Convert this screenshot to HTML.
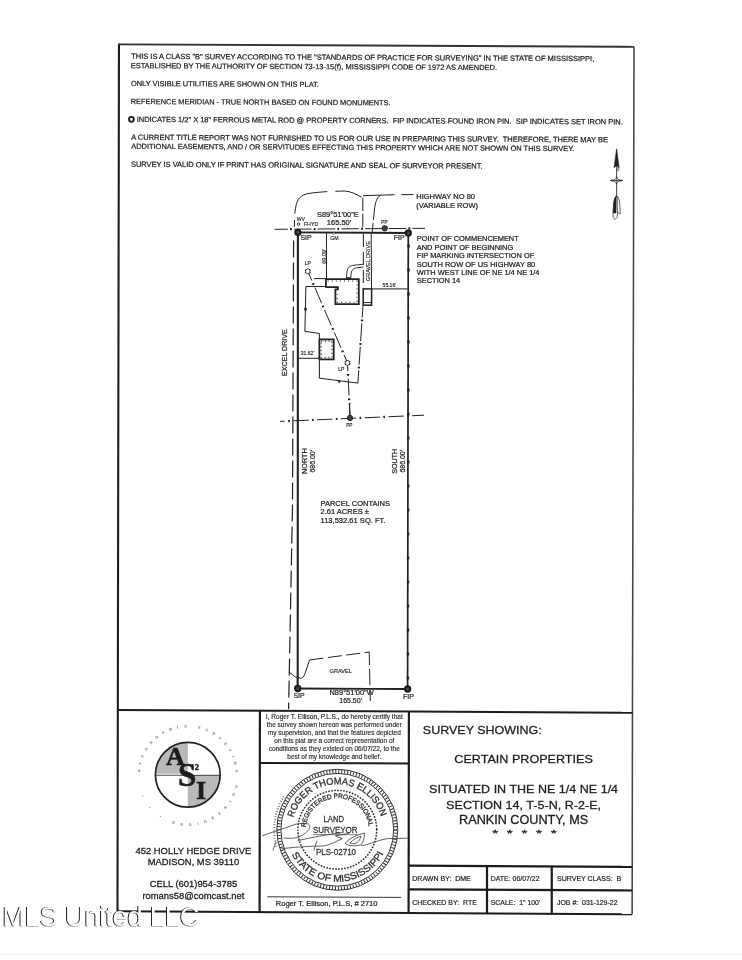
<!DOCTYPE html>
<html lang="en"><head><meta charset="utf-8"><title>Survey Plat</title>
<style>
html,body{margin:0;padding:0;background:#fff;}
body{width:742px;height:960px;position:relative;overflow:hidden;font-family:"Liberation Sans",sans-serif;}
svg{position:absolute;left:0;top:0;display:block;}
svg text{font-family:"Liberation Sans",sans-serif;}
.wm{position:absolute;left:2.4px;top:900.5px;font-size:27px;line-height:32px;color:#fff;white-space:nowrap;letter-spacing:-0.1px;
text-shadow:-1px 0.35px 0.4px rgba(20,20,20,0.95),-0.5px 1px 0.5px rgba(20,20,20,0.3);}
</style></head><body>
<svg width="742" height="960" viewBox="0 0 742 960">
<rect width="742" height="960" fill="#fff"/>
<g filter="url(#soft)">
<path d="M118.96 44.3 L634 46.8" stroke="#333" stroke-width="1.8" fill="none" />
<path d="M634 46.8 L632.45 712.7 L632.15 914.3" stroke="#444" stroke-width="1.55" fill="none" />
<path d="M118.96 44.3 L117.8 715 L117.5 911.2" stroke="#1c1c1c" stroke-width="2.1" fill="none" />
<path d="M117.5 911.2 L632.15 914.3" stroke="#1c1c1c" stroke-width="2.1" fill="none" />
<rect x="118.06" y="43.4" width="1.8" height="1.8" fill="#333"/>
<line x1="117.8" y1="709.9" x2="632.45" y2="712.7" stroke="#1c1c1c" stroke-width="2.0"/>
<line x1="259.9" y1="710.7" x2="259.6" y2="912" stroke="#1c1c1c" stroke-width="2.2"/>
<line x1="408.9" y1="711.5" x2="408.6" y2="913" stroke="#1c1c1c" stroke-width="2.2"/>
<line x1="259.8" y1="762.9" x2="408.75" y2="763.5" stroke="#1c1c1c" stroke-width="2.0"/>
<line x1="408.65" y1="865.7" x2="632.15" y2="866.9" stroke="#1c1c1c" stroke-width="2.2"/>
<line x1="408.65" y1="889.3" x2="632.15" y2="890.5" stroke="#1c1c1c" stroke-width="2.2"/>
<line x1="487" y1="866" x2="487" y2="913.4" stroke="#1c1c1c" stroke-width="2.2"/>
<line x1="551.75" y1="866.5" x2="551.75" y2="913.8" stroke="#1c1c1c" stroke-width="2.2"/>
<line x1="267.5" y1="896.8" x2="401" y2="897.4" stroke="#202020" stroke-width="0.9"/>
<text x="131.2" y="58.8" font-size="7.49" textLength="463.05" lengthAdjust="spacingAndGlyphs" fill="#202020" xml:space="preserve" transform="rotate(0.3 131.2 58.8)" stroke="#202020" stroke-width="0.22">THIS IS A CLASS &quot;B&quot; SURVEY ACCORDING TO THE &quot;STANDARDS OF PRACTICE FOR SURVEYING&quot; IN THE STATE OF MISSISSIPPI,</text>
<text x="130.7" y="68.2" font-size="7.45" textLength="366.3" lengthAdjust="spacingAndGlyphs" fill="#202020" xml:space="preserve" transform="rotate(0.3 130.7 68.2)" stroke="#202020" stroke-width="0.21">ESTABLISHED BY THE AUTHORITY OF SECTION 73-13-15(f), MISSISSIPPI CODE OF 1972 AS AMENDED.</text>
<text x="130.9" y="86.0" font-size="7.46" textLength="188.0" lengthAdjust="spacingAndGlyphs" fill="#202020" xml:space="preserve" transform="rotate(0.3 130.9 86.0)" stroke="#202020" stroke-width="0.21">ONLY VISIBLE UTILITIES ARE SHOWN ON THIS PLAT.</text>
<text x="130.7" y="104.0" font-size="7.4" textLength="259.9" lengthAdjust="spacingAndGlyphs" fill="#202020" xml:space="preserve" transform="rotate(0.3 130.7 104.0)" stroke="#202020" stroke-width="0.21">REFERENCE MERIDIAN - TRUE NORTH BASED ON FOUND MONUMENTS.</text>
<text x="136.7" y="121.9" font-size="7.47" textLength="486.05" lengthAdjust="spacingAndGlyphs" fill="#202020" xml:space="preserve" transform="rotate(0.3 136.7 121.9)" stroke="#202020" stroke-width="0.22">INDICATES 1/2&quot; X 18&quot; FERROUS METAL ROD @ PROPERTY CORNERS.  FIP INDICATES FOUND IRON PIN.  SIP INDICATES SET IRON PIN.</text>
<text x="131.2" y="139.8" font-size="7.49" textLength="476.8" lengthAdjust="spacingAndGlyphs" fill="#202020" xml:space="preserve" transform="rotate(0.3 131.2 139.8)" stroke="#202020" stroke-width="0.22">A CURRENT TITLE REPORT WAS NOT FURNISHED TO US FOR OUR USE IN PREPARING THIS SURVEY.  THEREFORE, THERE MAY BE</text>
<text x="131.2" y="148.8" font-size="7.45" textLength="443.05" lengthAdjust="spacingAndGlyphs" fill="#202020" xml:space="preserve" transform="rotate(0.3 131.2 148.8)" stroke="#202020" stroke-width="0.21">ADDITIONAL EASEMENTS, AND / OR SERVITUDES EFFECTING THIS PROPERTY WHICH ARE NOT SHOWN ON THIS SURVEY.</text>
<text x="130.9" y="166.8" font-size="7.49" textLength="351.6" lengthAdjust="spacingAndGlyphs" fill="#202020" xml:space="preserve" transform="rotate(0.3 130.9 166.8)" stroke="#202020" stroke-width="0.22">SURVEY IS VALID ONLY IF PRINT HAS ORIGINAL SIGNATURE AND SEAL OF SURVEYOR PRESENT.</text>
<circle cx="131.4" cy="119.3" r="2.45" fill="none" stroke="#1c1c1c" stroke-width="1.9"/>
<line x1="616.6" y1="150" x2="616.6" y2="197" stroke="#202020" stroke-width="0.8"/>
<path d="M616.6 148.9 L614.0 167.8 L616.6 165.5 L619.2 167.8 Z" stroke="#202020" stroke-width="0.6" fill="#202020" />
<ellipse cx="617.8000000000001" cy="169.3" rx="1.1" ry="1.6" fill="none" stroke="#202020" stroke-width="0.6"/>
<path d="M610.4 180.5 L615.3000000000001 179.4 L616.6 177 L617.9 179.4 L622.8000000000001 180.5 L617.9 181.6 L616.6 184 L615.3000000000001 181.6 Z" stroke="#202020" stroke-width="0.7" fill="#fff" />
<line x1="610.4" y1="180.5" x2="622.8000000000001" y2="180.5" stroke="#202020" stroke-width="0.7"/>
<line x1="616.6" y1="176.5" x2="616.6" y2="184.5" stroke="#202020" stroke-width="0.6"/>
<path d="M616.3000000000001 196.2 C614.0 197,613.4 205,613.0 216 C612.9 220,616.9 220,617.4 216 L617.2 196.5 Z" stroke="#202020" stroke-width="0.7" fill="none" />
<path d="M616.3000000000001 196.2 C614.0 197,613.4 205,613.1 213 L616.0 213 Z" stroke="#202020" stroke-width="0.5" fill="#202020" />
<path d="M616.9 196.2 C619.6 197,620.0 205,620.2 214 L617.4 212" stroke="#202020" stroke-width="0.7" fill="none" />
<line x1="297.9" y1="232.3" x2="297.7" y2="688.5" stroke="#202020" stroke-width="2.1"/>
<line x1="297.9" y1="232.3" x2="408.3" y2="233.0" stroke="#202020" stroke-width="1.8"/>
<line x1="408.3" y1="233.0" x2="407.6" y2="689.0" stroke="#202020" stroke-width="1.7"/>
<line x1="297.7" y1="688.5" x2="407.6" y2="689.0" stroke="#202020" stroke-width="1.8"/>
<circle cx="297.9" cy="232.3" r="2.6" fill="#4a4a4a" stroke="#1a1a1a" stroke-width="2.1"/>
<circle cx="408.3" cy="233.0" r="2.6" fill="#4a4a4a" stroke="#1a1a1a" stroke-width="2.1"/>
<circle cx="297.7" cy="688.5" r="2.6" fill="#4a4a4a" stroke="#1a1a1a" stroke-width="2.1"/>
<circle cx="407.6" cy="689.0" r="2.6" fill="#4a4a4a" stroke="#1a1a1a" stroke-width="2.1"/>
<line x1="408.58004385964915" y1="244.6" x2="408.58004385964915" y2="247.4" stroke="#202020" stroke-width="2.4"/>
<line x1="408.54320175438596" y1="268.6" x2="408.54320175438596" y2="271.4" stroke="#202020" stroke-width="2.4"/>
<line x1="408.5063596491228" y1="292.6" x2="408.5063596491228" y2="295.4" stroke="#202020" stroke-width="2.4"/>
<line x1="408.4695175438597" y1="316.6" x2="408.4695175438597" y2="319.4" stroke="#202020" stroke-width="2.4"/>
<line x1="408.4326754385965" y1="340.6" x2="408.4326754385965" y2="343.4" stroke="#202020" stroke-width="2.4"/>
<line x1="408.39583333333337" y1="364.6" x2="408.39583333333337" y2="367.4" stroke="#202020" stroke-width="2.4"/>
<line x1="408.3589912280702" y1="388.6" x2="408.3589912280702" y2="391.4" stroke="#202020" stroke-width="2.4"/>
<line x1="408.32214912280705" y1="412.6" x2="408.32214912280705" y2="415.4" stroke="#202020" stroke-width="2.4"/>
<line x1="408.2853070175439" y1="436.6" x2="408.2853070175439" y2="439.4" stroke="#202020" stroke-width="2.4"/>
<line x1="408.2484649122807" y1="460.6" x2="408.2484649122807" y2="463.4" stroke="#202020" stroke-width="2.4"/>
<line x1="408.2116228070176" y1="484.6" x2="408.2116228070176" y2="487.4" stroke="#202020" stroke-width="2.4"/>
<line x1="408.1747807017544" y1="508.6" x2="408.1747807017544" y2="511.4" stroke="#202020" stroke-width="2.4"/>
<line x1="408.13793859649127" y1="532.6" x2="408.13793859649127" y2="535.4" stroke="#202020" stroke-width="2.4"/>
<line x1="408.1010964912281" y1="556.6" x2="408.1010964912281" y2="559.4" stroke="#202020" stroke-width="2.4"/>
<line x1="408.06425438596494" y1="580.6" x2="408.06425438596494" y2="583.4" stroke="#202020" stroke-width="2.4"/>
<line x1="408.0274122807018" y1="604.6" x2="408.0274122807018" y2="607.4" stroke="#202020" stroke-width="2.4"/>
<line x1="407.9905701754386" y1="628.6" x2="407.9905701754386" y2="631.4" stroke="#202020" stroke-width="2.4"/>
<line x1="407.9537280701755" y1="652.6" x2="407.9537280701755" y2="655.4" stroke="#202020" stroke-width="2.4"/>
<line x1="407.9168859649123" y1="676.6" x2="407.9168859649123" y2="679.4" stroke="#202020" stroke-width="2.4"/>
<path d="M293.6 240.6 L292.5 505 L288.6 709" stroke="#202020" stroke-width="1.2" fill="none" stroke-dasharray="17 5" />
<path d="M274.7 229.3 L425 228.3" stroke="#202020" stroke-width="1.0" fill="none" stroke-dasharray="17.5 2.3 1.6 2.3" stroke-dashoffset="4.4"/>
<path d="M274.7 229.3 L425 228.3" stroke="#202020" stroke-width="2.2" fill="none" stroke-dasharray="0 19.8 1.6 2.3" stroke-dashoffset="4.4"/>
<path d="M280 421.4 L424 415.2" stroke="#202020" stroke-width="1.0" fill="none" stroke-dasharray="15.3 3.5 1.5 3.5" stroke-dashoffset="10.5"/>
<path d="M280 421.4 L424 415.2" stroke="#202020" stroke-width="2.2" fill="none" stroke-dasharray="0 18.8 1.5 3.5" stroke-dashoffset="10.5"/>
<path d="M294.3 227 L294.6 219 C294.8 210,296 202,299.5 198 C302 195.3,305 194,309 193.4 C320 191.8,335 191,345.5 191.1 C350 191.4,356.3 194,361.6 197.3" stroke="#202020" stroke-width="1.0" fill="none" stroke-dasharray="7 6 46 8 200 0" />
<path d="M362.9 195.7 L394.5 194.7" stroke="#202020" stroke-width="1.0" fill="none" />
<path d="M362.8 198 L362.8 229.5" stroke="#202020" stroke-width="1.0" fill="none" stroke-dasharray="13 2.8" />
<path d="M380.5 195.3 C377 197,375 203,374.4 210" stroke="#202020" stroke-width="1.0" fill="none" />
<path d="M374.4 210 L372 234" stroke="#202020" stroke-width="1.0" fill="none" stroke-dasharray="10 3" />
<path d="M401.3 194.6 L413.5 194.6" stroke="#202020" stroke-width="1.0" fill="none" />
<text x="317" y="216.8" font-size="7.43" textLength="41.75" lengthAdjust="spacingAndGlyphs" fill="#202020"  stroke="#202020" stroke-width="0.21">S89°51'00&quot;E</text>
<text x="326.75" y="225.2" font-size="7.54" textLength="24.5" lengthAdjust="spacingAndGlyphs" fill="#202020"  stroke="#202020" stroke-width="0.22">165.50'</text>
<text x="296.7" y="221.3" font-size="5.15" textLength="8.3" lengthAdjust="spacingAndGlyphs" fill="#202020"  stroke="#202020" stroke-width="0.14">WV</text>
<circle cx="298.6" cy="224.1" r="1.25" fill="none" stroke="#202020" stroke-width="0.9"/>
<text x="303.9" y="225.8" font-size="5.25" textLength="14.3" lengthAdjust="spacingAndGlyphs" fill="#202020"  stroke="#202020" stroke-width="0.14">FHYD</text>
<text x="381.3" y="224.3" font-size="4.72" textLength="6.3" lengthAdjust="spacingAndGlyphs" fill="#202020"  stroke="#202020" stroke-width="0.14">PP</text>
<circle cx="384.7" cy="228.3" r="2.7" fill="#3c3c3c" stroke="#202020" stroke-width="0.8"/>
<text x="300.5" y="240.4" font-size="6.9" fill="#202020"  stroke="#202020" stroke-width="0.18">SIP</text>
<text x="393.8" y="240.2" font-size="7.0" fill="#202020"  stroke="#202020" stroke-width="0.19">FIP</text>
<text x="330.2" y="240.3" font-size="5.21" textLength="8.4" lengthAdjust="spacingAndGlyphs" fill="#202020"  stroke="#202020" stroke-width="0.14">GM</text>
<circle cx="334" cy="233.3" r="1" fill="#fff" stroke="#202020" stroke-width="0.6"/>
<text x="416.25" y="198.8" font-size="7.52" textLength="58.75" lengthAdjust="spacingAndGlyphs" fill="#202020"  stroke="#202020" stroke-width="0.22">HIGHWAY NO 80</text>
<text x="416.25" y="207.5" font-size="7.53" textLength="61.75" lengthAdjust="spacingAndGlyphs" fill="#202020"  stroke="#202020" stroke-width="0.22">(VARIABLE ROW)</text>
<text x="416.75" y="241.3" font-size="7.78" textLength="102" lengthAdjust="spacingAndGlyphs" fill="#202020"  stroke="#202020" stroke-width="0.23">POINT OF COMMENCEMENT</text>
<text x="416.75" y="249.70000000000002" font-size="7.8" textLength="96.5" lengthAdjust="spacingAndGlyphs" fill="#202020"  stroke="#202020" stroke-width="0.24">AND POINT OF BEGINNING</text>
<text x="416.75" y="258.1" font-size="7.77" textLength="117.5" lengthAdjust="spacingAndGlyphs" fill="#202020"  stroke="#202020" stroke-width="0.23">FIP MARKING INTERSECTION OF</text>
<text x="416.75" y="266.5" font-size="7.84" textLength="118.5" lengthAdjust="spacingAndGlyphs" fill="#202020"  stroke="#202020" stroke-width="0.24">SOUTH ROW OF US HIGHWAY 80</text>
<text x="416.75" y="274.90000000000003" font-size="7.79" textLength="122.75" lengthAdjust="spacingAndGlyphs" fill="#202020"  stroke="#202020" stroke-width="0.23">WITH WEST LINE OF NE 1/4 NE 1/4</text>
<text x="416.75" y="283.3" font-size="7.83" textLength="43.5" lengthAdjust="spacingAndGlyphs" fill="#202020"  stroke="#202020" stroke-width="0.24">SECTION 14</text>
<line x1="326.5" y1="233" x2="326.5" y2="279" stroke="#202020" stroke-width="1.0"/>
<text transform="translate(325.61 263.80) rotate(-90)" font-size="5.61" textLength="15.10" lengthAdjust="spacingAndGlyphs" fill="#202020" stroke="#202020" stroke-width="0.14">69.09'</text>
<path d="M307.8 271.3 L347.5 362.9 L350 417.5" stroke="#202020" stroke-width="1.0" fill="none" stroke-dasharray="16.9 3 1.6 3" stroke-dashoffset="6.9"/>
<path d="M307.8 271.3 L347.5 362.9 L350 417.5" stroke="#202020" stroke-width="2.2" fill="none" stroke-dasharray="0 19.9 1.6 3" stroke-dashoffset="6.9"/>
<path d="M307.80 268.40 L308.84 269.49 L310.31 269.85 L309.89 271.30 L310.31 272.75 L308.84 273.11 L307.80 274.20 L306.76 273.11 L305.29 272.75 L305.71 271.30 L305.29 269.85 L306.76 269.49 Z" stroke="#202020" stroke-width="1.0" fill="#fff" />
<path d="M347.50 360.00 L348.54 361.09 L350.01 361.45 L349.59 362.90 L350.01 364.35 L348.54 364.71 L347.50 365.80 L346.46 364.71 L344.99 364.35 L345.41 362.90 L344.99 361.45 L346.46 361.09 Z" stroke="#202020" stroke-width="1.0" fill="#fff" />
<text x="304.8" y="265.3" font-size="5.07" textLength="6.2" lengthAdjust="spacingAndGlyphs" fill="#202020"  stroke="#202020" stroke-width="0.14">LP</text>
<text x="338.3" y="371.3" font-size="5.07" textLength="6.2" lengthAdjust="spacingAndGlyphs" fill="#202020"  stroke="#202020" stroke-width="0.14">LP</text>
<path d="M326 286.5 L305.9 286.5 L304.9 331.3 L319.4 333.5 L319.4 339" stroke="#202020" stroke-width="1.0" fill="none" />
<path d="M319.4 359.4 L319.4 378.2 L357.9 383.1" stroke="#202020" stroke-width="1.0" fill="none" />
<line x1="338.2" y1="381.4" x2="340.2" y2="381.7" stroke="#202020" stroke-width="2.4"/>
<path d="M357.9 383.1 L363 305.3" stroke="#202020" stroke-width="1.0" fill="none" stroke-dasharray="18 2 1.6 2" stroke-dashoffset="5.2"/>
<path d="M357.9 383.1 L363 305.3" stroke="#202020" stroke-width="2.2" fill="none" stroke-dasharray="0 20 1.6 2" stroke-dashoffset="5.2"/>
<line x1="363.4" y1="234" x2="363.3" y2="288.5" stroke="#202020" stroke-width="1.0" stroke-dasharray="13 5"/>
<line x1="371.2" y1="234" x2="371.5" y2="288.5" stroke="#202020" stroke-width="1.0"/>
<line x1="305.5" y1="307.9" x2="305.5" y2="310.5" stroke="#202020" stroke-width="2.4"/>
<path d="M325.9 279.2 L358.8 279.2 L358.8 304.1 L335.4 304.1 L335.4 289.4 L337.9 289.4 L337.9 287.2 L325.9 287.2 Z" stroke="#202020" stroke-width="1.8" fill="#fff" />
<path d="M346.4 278.3 L350.8 278.3" stroke="#202020" stroke-width="2.2" fill="none" />
<line x1="314" y1="278.6" x2="325.9" y2="278.6" stroke="#202020" stroke-width="1.0"/>
<path d="M327.6 281 L357 281 L357 302.4 L337.2 302.4 L337.2 291" fill="none" stroke="#666" stroke-width="1.5" stroke-dasharray="1.1 3.0"/>
<path d="M346.4 278.6 L346.9 272 C347.6 267.5,349.5 266,352.8 265.4 L363.6 264.2" stroke="#202020" stroke-width="0.9" fill="none" />
<path d="M350.7 278.6 L351.2 273 C351.8 270,353 268.6,355.5 268 L363.6 267" stroke="#202020" stroke-width="0.9" fill="none" />
<rect x="319.4" y="339.4" width="14.3" height="20" fill="#fafafa" stroke="#202020" stroke-width="1.8"/>
<rect x="321.2" y="341.2" width="10.7" height="16.4" fill="none" stroke="#555" stroke-width="1.6" stroke-dasharray="1.1 2.6"/>
<line x1="298" y1="358.3" x2="319.4" y2="358.3" stroke="#202020" stroke-width="1.0"/>
<text x="300.8" y="355.4" font-size="5.05" textLength="13.6" lengthAdjust="spacingAndGlyphs" fill="#202020"  stroke="#202020" stroke-width="0.14">31.62'</text>
<rect x="363.2" y="288.9" width="8.4" height="16.3" fill="#fff" stroke="#202020" stroke-width="1.5"/>
<line x1="363.2" y1="302.6" x2="371.6" y2="302.6" stroke="#202020" stroke-width="1.0"/>
<line x1="371.6" y1="288.9" x2="407.9" y2="288.9" stroke="#202020" stroke-width="1.0"/>
<text x="382.6" y="287.3" font-size="5.05" textLength="13.6" lengthAdjust="spacingAndGlyphs" fill="#202020"  stroke="#202020" stroke-width="0.14">55.16'</text>
<text transform="translate(369.96 281.00) rotate(-90)" font-size="5.47" textLength="39.80" lengthAdjust="spacingAndGlyphs" fill="#202020" stroke="#202020" stroke-width="0.14">GRAVEL DRIVE</text>
<text transform="translate(287.44 375.90) rotate(-90)" font-size="7.1" textLength="46.70" lengthAdjust="spacingAndGlyphs" fill="#202020" stroke="#202020" stroke-width="0.19">EXCEL DRIVE</text>
<line x1="350" y1="417.5" x2="349.6" y2="404" stroke="#202020" stroke-width="1.0"/>
<circle cx="349.6" cy="403.6" r="0.9" fill="#202020"/>
<circle cx="350" cy="418" r="2.7" fill="#3c3c3c" stroke="#202020" stroke-width="0.8"/>
<text x="346.2" y="427.1" font-size="4.72" textLength="6.3" lengthAdjust="spacingAndGlyphs" fill="#202020"  stroke="#202020" stroke-width="0.14">PP</text>
<text transform="translate(306.60 474.00) rotate(-90)" font-size="7.27" textLength="25.70" lengthAdjust="spacingAndGlyphs" fill="#202020" stroke="#202020" stroke-width="0.20">NORTH</text>
<text transform="translate(315.48 472.50) rotate(-90)" font-size="6.92" textLength="22.50" lengthAdjust="spacingAndGlyphs" fill="#202020" stroke="#202020" stroke-width="0.18">686.00'</text>
<text transform="translate(397.06 473.80) rotate(-90)" font-size="7.14" textLength="25.00" lengthAdjust="spacingAndGlyphs" fill="#202020" stroke="#202020" stroke-width="0.19">SOUTH</text>
<text transform="translate(405.08 472.50) rotate(-90)" font-size="6.92" textLength="22.50" lengthAdjust="spacingAndGlyphs" fill="#202020" stroke="#202020" stroke-width="0.18">686.00'</text>
<text x="320.5" y="505.6" font-size="7.5" textLength="69.5" lengthAdjust="spacingAndGlyphs" fill="#202020"  stroke="#202020" stroke-width="0.22">PARCEL CONTAINS</text>
<text x="320.5" y="514" font-size="7.53" textLength="48.5" lengthAdjust="spacingAndGlyphs" fill="#202020"  stroke="#202020" stroke-width="0.22">2.61 ACRES ±</text>
<text x="320.5" y="522.6" font-size="7.56" textLength="65" lengthAdjust="spacingAndGlyphs" fill="#202020"  stroke="#202020" stroke-width="0.22">113,532.61 SQ. FT.</text>
<path d="M289 672.2 C292 673.6,293.5 676.4,295.8 677 C298 677.8,300 678.3,301.7 678.1 C303.4 677.5,304.6 675,305.5 672.2" stroke="#202020" stroke-width="1.0" fill="none" />
<path d="M305.5 672.2 L309.5 660" stroke="#202020" stroke-width="1.0" fill="none" />
<path d="M309.5 660 L369.2 652" stroke="#202020" stroke-width="1.0" fill="none" stroke-dasharray="14 4.5" />
<path d="M369.2 652 L370.3 701" stroke="#202020" stroke-width="1.0" fill="none" stroke-dasharray="13 4 16 5 14 4" />
<text x="329.5" y="673.3" font-size="5.65" textLength="22.5" lengthAdjust="spacingAndGlyphs" fill="#202020"  stroke="#202020" stroke-width="0.14">GRAVEL</text>
<text x="329.5" y="695.1" font-size="7.44" textLength="44.25" lengthAdjust="spacingAndGlyphs" fill="#202020"  stroke="#202020" stroke-width="0.21">N89°51'00&quot;W</text>
<text x="339.25" y="703.4" font-size="7.0" textLength="22.75" lengthAdjust="spacingAndGlyphs" fill="#202020"  stroke="#202020" stroke-width="0.19">165.50'</text>
<text x="293.4" y="698.3" font-size="6.9" fill="#202020"  stroke="#202020" stroke-width="0.18">SIP</text>
<text x="403.0" y="699.3" font-size="7.1" fill="#202020"  stroke="#202020" stroke-width="0.19">FIP</text>
<text x="334.3" y="718.6" font-size="6.57" textLength="137" lengthAdjust="spacingAndGlyphs" text-anchor="middle" fill="#2c2c2c"  stroke="#2c2c2c" stroke-width="0.16">I, Roger T. Ellison, P.L.S., do hereby certify that</text>
<text x="334.3" y="726.6" font-size="6.46" textLength="135" lengthAdjust="spacingAndGlyphs" text-anchor="middle" fill="#2c2c2c"  stroke="#2c2c2c" stroke-width="0.15">the survey shown hereon was performed under</text>
<text x="334.3" y="734.8" font-size="6.5" textLength="133" lengthAdjust="spacingAndGlyphs" text-anchor="middle" fill="#2c2c2c"  stroke="#2c2c2c" stroke-width="0.15">my supervision, and that the features depicted</text>
<text x="334.3" y="742.5" font-size="6.48" textLength="120" lengthAdjust="spacingAndGlyphs" text-anchor="middle" fill="#2c2c2c"  stroke="#2c2c2c" stroke-width="0.15">on this plat are a correct representation of</text>
<text x="334.3" y="750.5" font-size="6.53" textLength="131" lengthAdjust="spacingAndGlyphs" text-anchor="middle" fill="#2c2c2c"  stroke="#2c2c2c" stroke-width="0.16">conditions as they existed on 06/07/22, to the</text>
<text x="334.3" y="758.5" font-size="6.45" textLength="94" lengthAdjust="spacingAndGlyphs" text-anchor="middle" fill="#2c2c2c"  stroke="#2c2c2c" stroke-width="0.15">best of my knowledge and belief.</text>
<text x="275.75" y="905.6" font-size="7.55" textLength="101.75" lengthAdjust="spacingAndGlyphs" fill="#202020"  stroke="#202020" stroke-width="0.22">Roger T. Ellison, P.L.S, # 2710</text>
<circle cx="337.3" cy="829.8" r="60.5" fill="none" stroke="#333" stroke-width="1.0"/>
<circle cx="337.3" cy="829.8" r="56.4" fill="none" stroke="#333" stroke-width="1.0"/>
<circle cx="337.3" cy="829.8" r="58.45" fill="none" stroke="#333" stroke-width="3.4" stroke-dasharray="1.0 2.0"/>
<path d="M283.70 796.31 A63.2 63.2 0 0 0 276.55 847.22" fill="none" stroke="#777" stroke-width="2.2" stroke-dasharray="0.9 1.8"/>
<circle cx="337.3" cy="829.8" r="39.4" fill="none" stroke="#333" stroke-width="1.75" stroke-dasharray="0.1 2.9" stroke-linecap="round"/>
<defs>
<path id="sealTop" d="M293.34 817.69 A45.6 45.6 0 0 1 380.91 816.47" fill="none"/>
<path id="sealBot" d="M291.60 854.61 A52 52 0 0 0 383.42 853.81" fill="none"/>
<path id="sealIn" d="M305.80 827.32 A31.6 31.6 0 0 1 368.70 826.22" fill="none"/>
</defs>
<text font-size="9.5" fill="#333" stroke="#333" stroke-width="0.34" ><textPath href="#sealTop" textLength="117.5" lengthAdjust="spacingAndGlyphs">ROGER THOMAS ELLISON</textPath></text>
<text font-size="9.7" fill="#333" stroke="#333" stroke-width="0.34" ><textPath href="#sealBot" textLength="112.5" lengthAdjust="spacingAndGlyphs">STATE OF MISSISSIPPI</textPath></text>
<text font-size="6.8" fill="#333" stroke="#333" stroke-width="0.34" ><textPath href="#sealIn" textLength="93.2" lengthAdjust="spacingAndGlyphs">REGISTERED PROFESSIONAL</textPath></text>
<text x="333.8" y="822.1" font-size="8.77" textLength="20.7" lengthAdjust="spacingAndGlyphs" text-anchor="middle" fill="#333"  stroke="#333" stroke-width="0.26">LAND</text>
<text x="335.3" y="833.4" font-size="8.75" textLength="44.5" lengthAdjust="spacingAndGlyphs" text-anchor="middle" fill="#333"  stroke="#333" stroke-width="0.26">SURVEYOR</text>
<line x1="313" y1="834.6" x2="357.5" y2="834.6" stroke="#333" stroke-width="0.6"/>
<text x="336" y="854.5" font-size="8.84" textLength="40.2" lengthAdjust="spacingAndGlyphs" text-anchor="middle" fill="#333"  stroke="#333" stroke-width="0.26">PLS-02710</text>
<path d="M262 835.8 L296.5 824 C301 823.2,306 823.2,308.4 824 C310.6 825.6,310 828.2,308 830.6 C305 834,300.5 836.6,297 837.6 C292.5 838.6,288 838.5,283.6 838" stroke="#3a3a3a" stroke-width="0.8" fill="none" />
<path d="M276 841.7 L272.8 850.4" stroke="#3a3a3a" stroke-width="0.8" fill="none" />
<path d="M297.6 840.7 C312 837.4,326 834.6,342 832.6" stroke="#3a3a3a" stroke-width="0.8" fill="none" />
<path d="M281.4 848.8 C292 847.4,306 846.2,323.5 846 C330 845,337 841,342.4 838.6 L335.4 835.9 L349 833.4" stroke="#3a3a3a" stroke-width="0.8" fill="none" />
<path d="M317 840.7 L313.8 850.4" stroke="#3a3a3a" stroke-width="0.8" fill="none" />
<path d="M345.1 843.4 C349 838.5,357 834.5,364.5 833.2 C364.5 838,363 842.5,361.3 844.5 C356 846.6,349 846,345.1 843.4 Z" stroke="#3a3a3a" stroke-width="0.8" fill="none" />
<path d="M350 843 C353 839.5,358 837,361 836.2 C360.5 839.5,358 842.5,355 843.6 C353 844,351.5 843.6,350 843" stroke="#3a3a3a" stroke-width="0.8" fill="none" />
<path d="M361.3 845.6 C366 845.4,370 843.4,375.3 841.8 C380 840.2,384 839,388.2 838.6 L407.6 838.2" stroke="#3a3a3a" stroke-width="0.8" fill="none" />
<defs><pattern id="hatch" width="1.2" height="1.2" patternUnits="userSpaceOnUse"><rect width="1.2" height="1.2" fill="#bdbdbd"/><rect width="0.6" height="0.6" fill="#a2a2a2"/></pattern><clipPath id="lc"><circle cx="187.8" cy="774.8" r="32.4"/></clipPath></defs>
<g clip-path="url(#lc)"><rect x="155.4" y="742.4" width="32.4" height="32.4" fill="#b9b9b9"/><rect x="187.8" y="774.8" width="32.4" height="32.4" fill="#b9b9b9"/></g>
<circle cx="187.8" cy="774.8" r="32.4" fill="none" stroke="#202020" stroke-width="1.7"/>
<line x1="155.4" y1="775.1999999999999" x2="220.20000000000002" y2="775.1999999999999" stroke="#202020" stroke-width="0.9"/>
<line x1="156.4" y1="774.1999999999999" x2="219.20000000000002" y2="774.1999999999999" stroke="#fff" stroke-width="0.8"/>
<text x="175.5" y="765.2" font-size="26" text-anchor="middle" font-weight="bold" fill="#1c1c1c"  style="font-family:Liberation Serif, serif" stroke="#1c1c1c" stroke-width="0.6">A</text>
<text x="187.3" y="785.6" font-size="33" text-anchor="middle" font-weight="bold" fill="#1c1c1c"  style="font-family:Liberation Serif, serif" stroke="#1c1c1c" stroke-width="0.6">S</text>
<text x="201" y="798.6" font-size="26" text-anchor="middle" font-weight="bold" fill="#1c1c1c"  style="font-family:Liberation Serif, serif" stroke="#1c1c1c" stroke-width="0.6">I</text>
<text x="196.9" y="769.6" font-size="7.5" text-anchor="middle" font-weight="bold" fill="#1c1c1c"  style="font-family:Liberation Serif, serif" stroke="#1c1c1c" stroke-width="0.6">2</text>
<defs>
<path id="ringTop" d="M140.27 772.31 A47.6 47.6 0 0 1 235.33 772.31" fill="none"/>
<path id="ringBot" d="M140.94 795.67 A51.3 51.3 0 0 0 237.98 785.47" fill="none"/>
</defs>
<text font-size="3.8" font-weight="bold" fill="#777"><textPath href="#ringTop" textLength="144.6" lengthAdjust="spacing">AFFORDABLE SURVEYING</textPath></text>
<text font-size="3.8" font-weight="bold" fill="#777"><textPath href="#ringBot" textLength="128.9" lengthAdjust="spacing">• • •  ENGINEERING</textPath></text>
<text x="193.4" y="854.2" font-size="9.41" textLength="115.75" lengthAdjust="spacingAndGlyphs" text-anchor="middle" fill="#202020"  stroke="#202020" stroke-width="0.26">452 HOLLY HEDGE DRIVE</text>
<text x="193.4" y="865.2" font-size="9.43" textLength="91.5" lengthAdjust="spacingAndGlyphs" text-anchor="middle" fill="#202020"  stroke="#202020" stroke-width="0.26">MADISON, MS 39110</text>
<text x="193.4" y="887.3" font-size="9.41" textLength="87.5" lengthAdjust="spacingAndGlyphs" text-anchor="middle" fill="#202020"  stroke="#202020" stroke-width="0.26">CELL (601)954-3785</text>
<text x="193.4" y="898.8" font-size="9.4" textLength="102" lengthAdjust="spacingAndGlyphs" text-anchor="middle" fill="#202020"  stroke="#202020" stroke-width="0.26">romans58@comcast.net</text>
<text x="422.8" y="733.8" font-size="11.75" textLength="119" lengthAdjust="spacingAndGlyphs" fill="#202020"  stroke="#202020" stroke-width="0.26">SURVEY SHOWING:</text>
<text x="523.6" y="763.3" font-size="11.83" textLength="138.5" lengthAdjust="spacingAndGlyphs" text-anchor="middle" fill="#202020"  stroke="#202020" stroke-width="0.26">CERTAIN PROPERTIES</text>
<text x="523.6" y="793.3" font-size="11.78" textLength="189" lengthAdjust="spacingAndGlyphs" text-anchor="middle" fill="#202020"  stroke="#202020" stroke-width="0.26">SITUATED IN THE NE 1/4 NE 1/4</text>
<text x="523.6" y="808.5" font-size="11.83" textLength="155" lengthAdjust="spacingAndGlyphs" text-anchor="middle" fill="#202020"  stroke="#202020" stroke-width="0.26">SECTION 14, T-5-N, R-2-E,</text>
<text x="523.6" y="823.8" font-size="11.88" textLength="129" lengthAdjust="spacingAndGlyphs" text-anchor="middle" fill="#202020"  stroke="#202020" stroke-width="0.26">RANKIN COUNTY, MS</text>
<text x="524.5" y="836.3" font-size="8.6" textLength="64.5" lengthAdjust="spacingAndGlyphs" text-anchor="middle" fill="#202020" xml:space="preserve" stroke="#202020" stroke-width="0.26">*  *  *  *  *</text>
<text x="412.3" y="881.2" font-size="7.0" textLength="58.5" lengthAdjust="spacingAndGlyphs" fill="#202020" xml:space="preserve" stroke="#202020" stroke-width="0.19">DRAWN BY:  DME</text>
<text x="490.75" y="881.2" font-size="6.92" textLength="48.75" lengthAdjust="spacingAndGlyphs" fill="#202020"  stroke="#202020" stroke-width="0.18">DATE: 06/07/22</text>
<text x="557" y="881.3" font-size="7.03" textLength="64.25" lengthAdjust="spacingAndGlyphs" fill="#202020" xml:space="preserve" stroke="#202020" stroke-width="0.19">SURVEY CLASS:  B</text>
<text x="412.3" y="904.9" font-size="6.96" textLength="64.5" lengthAdjust="spacingAndGlyphs" fill="#202020" xml:space="preserve" stroke="#202020" stroke-width="0.18">CHECKED BY:  RTE</text>
<text x="490.75" y="905" font-size="6.91" textLength="49.5" lengthAdjust="spacingAndGlyphs" fill="#202020" xml:space="preserve" stroke="#202020" stroke-width="0.18">SCALE:  1&quot; 100'</text>
<text x="557" y="905.1" font-size="6.93" textLength="60.5" lengthAdjust="spacingAndGlyphs" fill="#202020" xml:space="preserve" stroke="#202020" stroke-width="0.18">JOB #:  031-129-22</text>
<line x1="0" y1="954.9" x2="742" y2="954.9" stroke="#ececec" stroke-width="1.8"/>
</g>
<defs><filter id="soft" x="0" y="0" width="100%" height="100%"><feGaussianBlur stdDeviation="0.35"/></filter></defs>
</svg>
<div class="wm">MLS United LLC</div>
</body></html>
